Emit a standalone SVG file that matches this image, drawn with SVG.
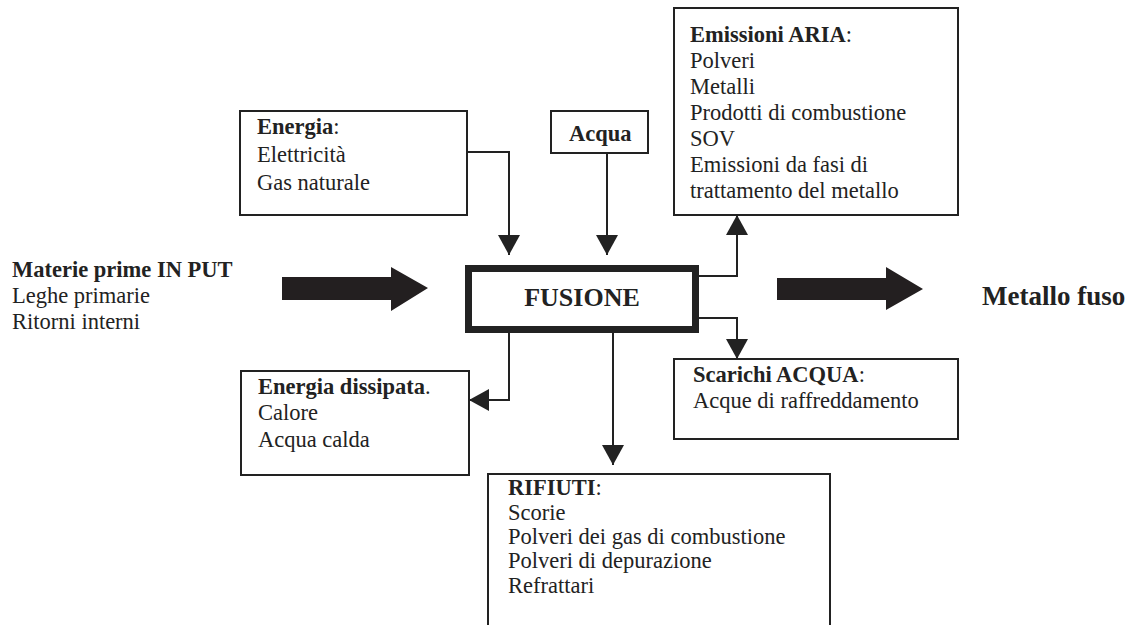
<svg xmlns="http://www.w3.org/2000/svg" width="1130" height="625" viewBox="0 0 1130 625">
<defs>
<style>
.box{fill:#fff;stroke:#222;stroke-width:2}
.ln{fill:none;stroke:#222;stroke-width:2}
.t{font-family:"Liberation Serif","Times New Roman",serif;font-size:22.5px;fill:#222}
.b{font-weight:bold}
.big{fill:#231f20}
</style>
<marker id="ah2" viewBox="0 0 10 10" refX="10" refY="5" markerWidth="20" markerHeight="22" markerUnits="userSpaceOnUse" orient="auto" preserveAspectRatio="none">
<path d="M0,0 L10,5 L0,10 Z" fill="#222"/>
</marker>
</defs>
<g id="connectors">
<path class="ln" d="M467,152 H509 V255" marker-end="url(#ah2)"/>
<path class="ln" d="M607,153 V255" marker-end="url(#ah2)"/>
<path class="ln" d="M699,276 H737 V215" marker-end="url(#ah2)"/>
<path class="ln" d="M699,318 H737 V359" marker-end="url(#ah2)"/>
<path class="ln" d="M509,333 V400 H469" marker-end="url(#ah2)"/>
<path class="ln" d="M613,333 V465" marker-end="url(#ah2)"/>
<polygon class="big" points="282,277 391,277 391,267 428,288 391,311 391,300 282,300"/>
<polygon class="big" points="777,278 886,278 886,267 923,289 886,310 886,300 777,300"/>
</g>
<g id="energia">
<rect class="box" x="240" y="111" width="227" height="104"/>
<text class="t" x="257" y="134"><tspan class="b">Energia</tspan>:</text>
<text class="t" x="257" y="162">Elettricità</text>
<text class="t" x="257" y="190">Gas naturale</text>
</g>
<g id="acqua">
<rect class="box" x="551" y="111" width="97" height="42"/>
<text class="t b" x="569" y="141">Acqua</text>
</g>
<g id="emissioni">
<rect class="box" x="674" y="8" width="284" height="207"/>
<text class="t" x="690" y="42"><tspan class="b">Emissioni ARIA</tspan>:</text>
<text class="t" x="690" y="68">Polveri</text>
<text class="t" x="690" y="94">Metalli</text>
<text class="t" x="690" y="120">Prodotti di combustione</text>
<text class="t" x="690" y="146">SOV</text>
<text class="t" x="690" y="172">Emissioni da fasi di</text>
<text class="t" x="690" y="198">trattamento del metallo</text>
</g>
<g id="input">
<text class="t b" x="12" y="277">Materie prime IN PUT</text>
<text class="t" x="12" y="303">Leghe primarie</text>
<text class="t" x="12" y="329">Ritorni interni</text>
</g>
<g id="fusione">
<rect x="468.5" y="268.5" width="227" height="61" fill="#fff" stroke="#222" stroke-width="7"/>
<text class="t b" x="582" y="306" text-anchor="middle" style="font-size:26px">FUSIONE</text>
</g>
<g id="output">
<text class="t b" x="982" y="305" style="font-size:27px">Metallo fuso</text>
</g>
<g id="dissipata">
<rect class="box" x="241" y="371" width="228" height="104"/>
<text class="t" x="258" y="394"><tspan class="b">Energia dissipata</tspan>.</text>
<text class="t" x="258" y="420">Calore</text>
<text class="t" x="258" y="447">Acqua calda</text>
</g>
<g id="scarichi">
<rect class="box" x="674" y="359" width="284" height="80"/>
<text class="t" x="693" y="382"><tspan class="b">Scarichi ACQUA</tspan>:</text>
<text class="t" x="693" y="408">Acque di raffreddamento</text>
</g>
<g id="rifiuti">
<path class="box" d="M488,630 V474 H830 V630"/>
<text class="t" x="508" y="495"><tspan class="b">RIFIUTI</tspan>:</text>
<text class="t" x="508" y="520">Scorie</text>
<text class="t" x="508" y="544">Polveri dei gas di combustione</text>
<text class="t" x="508" y="568">Polveri di depurazione</text>
<text class="t" x="508" y="593">Refrattari</text>
</g>
</svg>
